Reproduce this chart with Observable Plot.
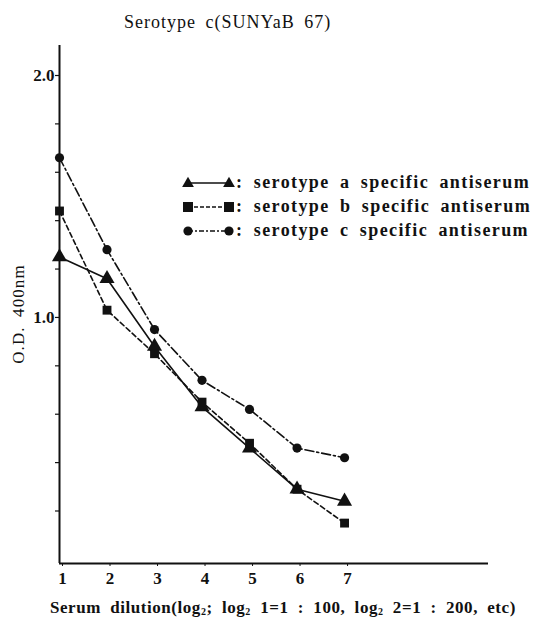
<!DOCTYPE html>
<html>
<head>
<meta charset="utf-8">
<script src="https://cdn.jsdelivr.net/npm/d3@7"></script>
<script src="https://cdn.jsdelivr.net/npm/@observablehq/plot@0.6"></script>
<style>
  html, body { margin: 0; padding: 0; background: #fff; }
  #wrap { position: relative; width: 537px; height: 627px; font-family: "Liberation Serif", "DejaVu Serif", serif; color: #111; }
  #title { position: absolute; left: 124px; top: 12px; font-size: 18px; letter-spacing: 1px; word-spacing: 4px; white-space: nowrap; }
  #ylab { position: absolute; left: 19px; top: 314px; transform: translate(-50%, -50%) rotate(-90deg); font-size: 17px; letter-spacing: 1.1px; word-spacing: 4px; white-space: nowrap; }
  #xlab { position: absolute; left: 50px; top: 598px; font-size: 17px; font-weight: bold; letter-spacing: 0.55px; word-spacing: 4.5px; white-space: nowrap; }
  #xlab sub { font-size: 10px; vertical-align: -2px; }
  #legend { position: absolute; left: 178px; top: 172px; }
  #chart { position: absolute; left: 0; top: 0; }
</style>
</head>
<body>
<div id="wrap">
  <div id="chart"></div>
  <div id="title">Serotype c(SUNYaB 67)</div>
  <div id="ylab">O.D. 400nm</div>
  <div id="xlab">Serum dilution(log<sub>2</sub>; log<sub>2</sub> 1=1 : 100, log<sub>2</sub> 2=1 : 200, etc)</div>
  <div id="legend"></div>
</div>
<script>
const dilution = [1, 2, 3, 4, 5, 6, 7];
const serotypeA = [1.25, 1.16, 0.88, 0.63, 0.46, 0.29, 0.24];
const serotypeB = [1.44, 1.03, 0.85, 0.65, 0.48, 0.29, 0.15];
const serotypeC = [1.66, 1.28, 0.95, 0.74, 0.62, 0.46, 0.42];
const seriesNames = ["serotype a specific antiserum", "serotype b specific antiserum", "serotype c specific antiserum"];
const seriesSymbols = ["triangle", "square", "circle"];
const seriesDash = [null, "5,3", "9,3,2,3"];
const seriesR = [5.6, 5.0, 4.6];
const xTicks = [1, 2, 3, 4, 5, 6, 7];
const yTicks = [0.2, 0.4, 0.6, 0.8, 1.0, 1.2, 1.4, 1.6, 1.8, 2.0];
const yLabeled = [1.0, 2.0];

const allValues = [serotypeA, serotypeB, serotypeC];
const data = [];
allValues.forEach((vals, si) => vals.forEach((v, i) => data.push({x: dilution[i], y: v, s: si})));

const yMin = -0.017, yMax = 2.124;
const xMin = 1, xMax = 10.03;

const marks = [];
allValues.forEach((vals, si) => {
  const d = data.filter(p => p.s === si);
  marks.push(Plot.line(d, {x: "x", y: "y", stroke: "#111", strokeWidth: 1.6, strokeDasharray: seriesDash[si]}));
});
allValues.forEach((vals, si) => {
  const d = data.filter(p => p.s === si);
  marks.push(Plot.dot(d, {x: "x", y: "y", symbol: () => seriesSymbols[si], r: seriesR[si], fill: "#111", stroke: "none"}));
});

const plot = Plot.plot({
  width: 537,
  height: 627,
  marginLeft: 59,
  marginRight: 49,
  marginTop: 45,
  marginBottom: 64,
  style: {fontFamily: "'Liberation Serif', 'DejaVu Serif', serif", fontSize: "17px", fontWeight: "bold", color: "#111", background: "white"},
  x: {domain: [xMin, xMax], axis: null},
  y: {domain: [yMin, yMax], axis: null},
  symbol: {type: "identity"},
  marks: [
    Plot.axisY(yTicks, {tickSize: 4, tickFormat: d => yLabeled.includes(d) ? d.toFixed(1) : "", tickPadding: 1, strokeWidth: 1.2, fontSize: 17, fontWeight: "bold", label: null}),
    Plot.axisX(xTicks, {tickSize: 3, tickRotate: 0, tickPadding: 5, dx: 3, tickFormat: d => String(d), fontSize: 17, fontWeight: "bold", label: null, anchor: "bottom"}),
    Plot.ruleX([xMin], {stroke: "#111", strokeWidth: 2}),
    Plot.ruleY([yMin], {stroke: "#111", strokeWidth: 2}),
    ...marks
  ]
});
document.getElementById("chart").appendChild(plot);

// legend
const ns = "http://www.w3.org/2000/svg";
const lg = document.createElementNS(ns, "svg");
lg.setAttribute("width", 359);
lg.setAttribute("height", 75);
const symPath = {
  triangle: (cx, cy, r) => `M${cx},${cy - r * 1.1}L${cx + r * 1.05},${cy + r * 0.7}L${cx - r * 1.05},${cy + r * 0.7}Z`,
  square: (cx, cy, r) => `M${cx - r},${cy - r}h${2 * r}v${2 * r}h${-2 * r}Z`,
};
seriesNames.forEach((name, i) => {
  const cy = 11 + i * 24;
  const x1 = 10, x2 = 51;
  const line = document.createElementNS(ns, "line");
  line.setAttribute("x1", x1); line.setAttribute("x2", x2);
  line.setAttribute("y1", cy); line.setAttribute("y2", cy);
  line.setAttribute("stroke", "#111"); line.setAttribute("stroke-width", 1.6);
  if (seriesDash[i]) line.setAttribute("stroke-dasharray", i === 1 ? "4,2" : "5,2,2,2");
  lg.appendChild(line);
  [x1, x2].forEach(cx => {
    let el;
    if (seriesSymbols[i] === "circle") {
      el = document.createElementNS(ns, "circle");
      el.setAttribute("cx", cx); el.setAttribute("cy", cy); el.setAttribute("r", seriesR[i]);
    } else {
      el = document.createElementNS(ns, "path");
      el.setAttribute("d", symPath[seriesSymbols[i]](cx, cy, seriesR[i]));
    }
    el.setAttribute("fill", "#111");
    lg.appendChild(el);
  });
  const t = document.createElementNS(ns, "text");
  t.setAttribute("x", 58); t.setAttribute("y", cy + 5);
  t.setAttribute("font-family", "'Liberation Serif', 'DejaVu Serif', serif");
  t.setAttribute("font-size", 18);
  t.setAttribute("font-weight", "bold");
  t.setAttribute("letter-spacing", 1.4);
  t.setAttribute("word-spacing", 4.5);
  t.setAttribute("fill", "#111");
  t.textContent = ": " + name;
  lg.appendChild(t);
});
document.getElementById("legend").appendChild(lg);
</script>
</body>
</html>
